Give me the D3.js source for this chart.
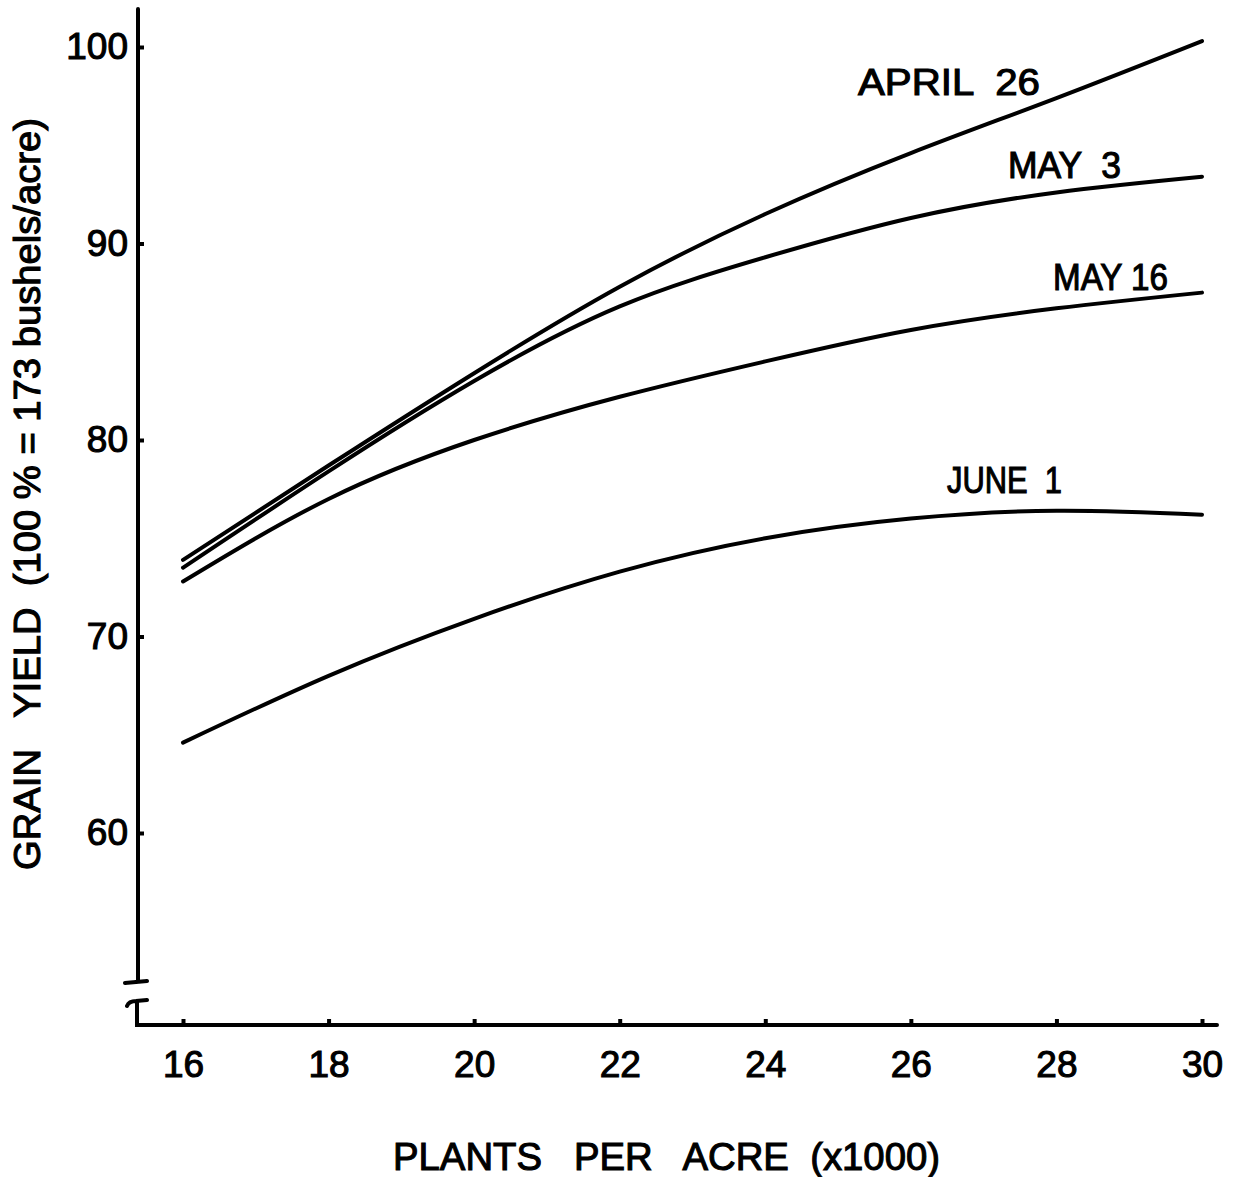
<!DOCTYPE html>
<html>
<head>
<meta charset="utf-8">
<script src="https://cdn.jsdelivr.net/npm/d3@7"></script>
<style>
	body { margin: 0; background: #fff; }
	svg text { font-family: "Liberation Sans", Arial, sans-serif; fill: #000; stroke: #000; stroke-width: 1.1px; }
</style>
</head>
<body>
<svg id="chart" width="1243" height="1177"></svg>
<script>
// plants per acre (x1000)
const plants = [16, 18, 20, 22, 24, 26, 28, 30];

// grain yield, % of 173 bu/acre, one list per planting date
const april26 = [73.9, 78.7, 83.4, 87.8, 91.5, 94.6, 97.4, 100.3];
const may3    = [73.5, 78.4, 83.0, 86.8, 89.3, 91.3, 92.6, 93.4];
const may16   = [72.8, 77.0, 80.0, 82.2, 84.0, 85.6, 86.7, 87.5];
const june1   = [64.6, 68.0, 70.9, 73.3, 75.0, 76.0, 76.4, 76.2];

const seriesNames = ['APRIL  26', 'MAY  3', 'MAY 16', 'JUNE  1'];
const yTicks = [60, 70, 80, 90, 100];
const xTicks = [16, 18, 20, 22, 24, 26, 28, 30];

const svg = d3.select('#chart');
const xScale = d3.scaleLinear().domain([16, 30]).range([183, 1202]);
const yScale = d3.scaleLinear().domain([60, 100]).range([833, 47]);

const ink = '#000';
const fs = 37;

// curves
const line = d3.line()
	.x(d => xScale(d[0]))
	.y(d => yScale(d[1]))
	.curve(d3.curveNatural);

[april26, may3, may16, june1].forEach(function(vals){
	svg.append('path')
		.datum(plants.map((p, i) => [p, vals[i]]))
		.attr('d', line)
		.attr('fill', 'none')
		.attr('stroke', ink)
		.attr('stroke-width', 4)
		.attr('stroke-linecap', 'round');
});

// curve labels (hand lettered in the original, so fit to width)
const labelLayout = [
	{x: 858, y: 95, w: 182},
	{x: 1008, y: 178, w: 113},
	{x: 1053, y: 290, w: 115},
	{x: 947, y: 493, w: 115}
];
seriesNames.forEach(function(name, i){
	svg.append('text')
		.attr('x', labelLayout[i].x)
		.attr('y', labelLayout[i].y)
		.attr('font-size', fs)
		.attr('textLength', labelLayout[i].w)
		.attr('lengthAdjust', 'spacingAndGlyphs')
		.attr('xml:space', 'preserve')
		.text(name);
});

// y axis: ticks point inward, domain drawn by hand because of the break
const yAxis = svg.append('g')
	.attr('transform', 'translate(138,0)')
	.call(d3.axisLeft(yScale).tickValues(yTicks).tickSizeInner(-6).tickSizeOuter(0).tickPadding(10));
yAxis.select('.domain').remove();
yAxis.selectAll('line').attr('stroke', ink).attr('stroke-width', 4);
yAxis.selectAll('text')
	.attr('font-size', fs)
	.attr('font-family', '"Liberation Sans", Arial, sans-serif')
	.attr('fill', ink);

svg.append('path')
	.attr('d', 'M138,9 L138,982 M125,983 L147,981')
	.attr('fill', 'none').attr('stroke', ink).attr('stroke-width', 4).attr('stroke-linecap', 'round');

// break hook + x axis line
svg.append('path')
	.attr('d', 'M127,1006 Q129,1001 136,1001 L147,1000 M137,1001 L137,1025 L1217,1025')
	.attr('fill', 'none').attr('stroke', ink).attr('stroke-width', 4).attr('stroke-linecap', 'round');

const xAxis = svg.append('g')
	.attr('transform', 'translate(0,1025)')
	.call(d3.axisBottom(xScale).tickValues(xTicks).tickSizeInner(-6).tickSizeOuter(0).tickPadding(26));
xAxis.select('.domain').remove();
xAxis.selectAll('line').attr('stroke', ink).attr('stroke-width', 4);
xAxis.selectAll('text')
	.attr('font-size', fs)
	.attr('font-family', '"Liberation Sans", Arial, sans-serif')
	.attr('fill', ink);

// axis titles
svg.append('text')
	.attr('x', 393)
	.attr('y', 1170)
	.attr('font-size', 39)
	.attr('textLength', 547)
	.attr('lengthAdjust', 'spacingAndGlyphs')
	.attr('xml:space', 'preserve')
	.text('PLANTS   PER   ACRE  (x1000)');

svg.append('text')
	.attr('transform', 'translate(40,870) rotate(-90)')
	.attr('font-size', fs)
	.attr('textLength', 752)
	.attr('lengthAdjust', 'spacingAndGlyphs')
	.attr('xml:space', 'preserve')
	.text('GRAIN   YIELD  (100 % = 173 bushels/acre)');
</script>
</body>
</html>
